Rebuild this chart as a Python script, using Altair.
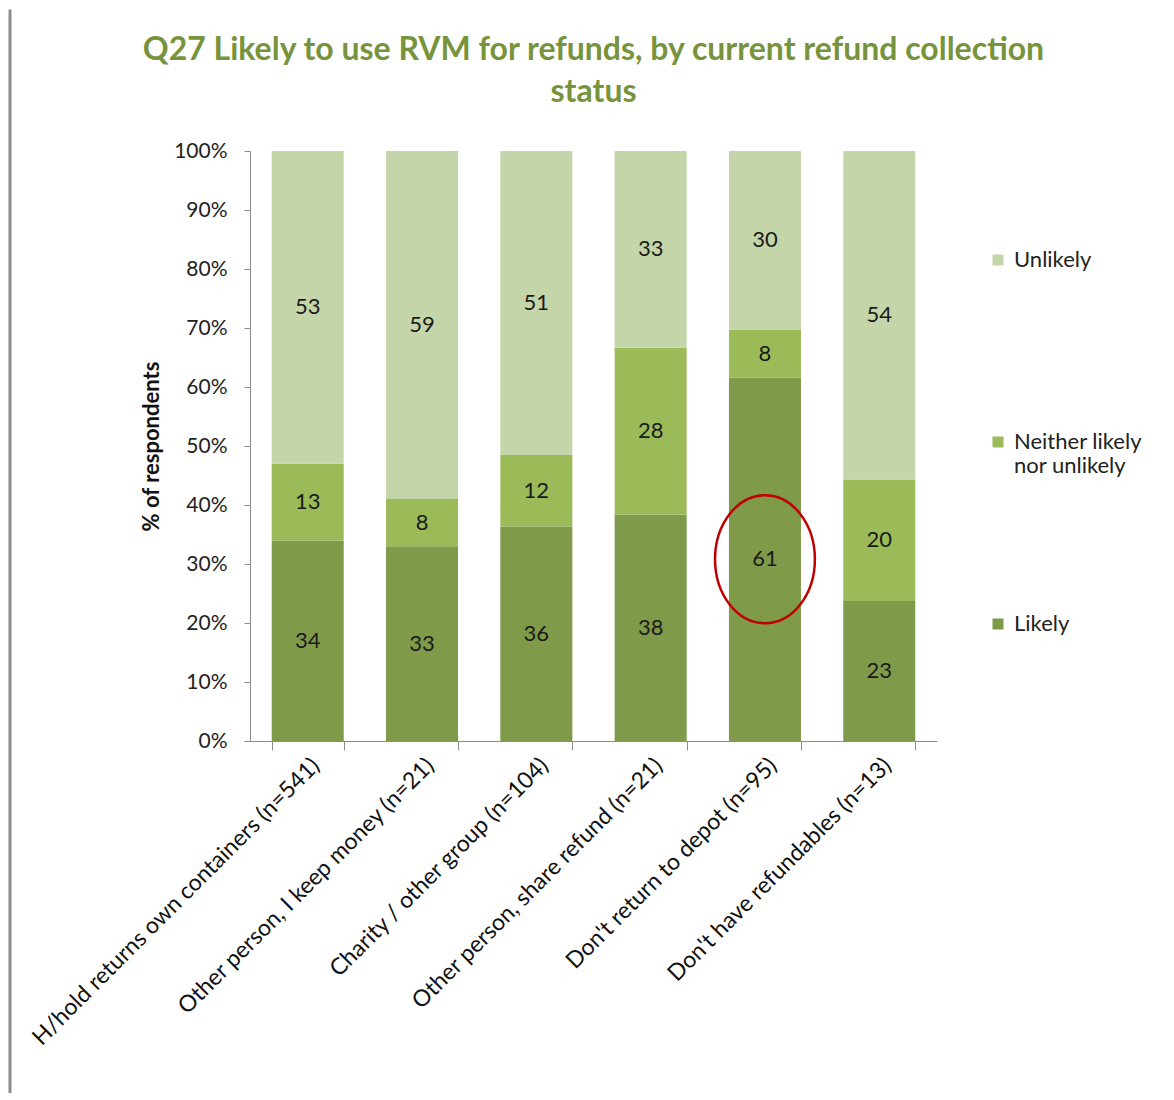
import altair as alt
import pandas as pd

categories = [
    "H/hold returns own containers (n=541)",
    "Other person, I keep money (n=21)",
    "Charity / other group (n=104)",
    "Other person, share refund (n=21)",
    "Don't return to depot (n=95)",
    "Don't have refundables (n=13)",
]
series = ["Likely", "Neither likely nor unlikely", "Unlikely"]
likely = [34, 33, 36, 38, 61, 23]
neither = [13, 8, 12, 28, 8, 20]
unlikely = [53, 59, 51, 33, 30, 54]
colors = ["#7F9A48", "#9BBB59", "#C4D6A9"]
highlight = ("Don't return to depot (n=95)", "Likely")

rows = []
for i, c in enumerate(categories):
    vals = [likely[i], neither[i], unlikely[i]]
    tot = sum(vals)
    cum = 0
    for s, v in zip(series, vals):
        y0 = cum / tot
        cum += v
        y1 = cum / tot
        rows.append({"cat": c, "series": s, "val": v, "y0": y0, "y1": y1,
                     "mid": (y0 + y1) / 2,
                     "hl": (c == highlight[0] and s == highlight[1])})
df = pd.DataFrame(rows)

FONT = "Lato"

x_enc = alt.X("cat:N", sort=categories, title=None,
              scale=alt.Scale(paddingInner=0.37, paddingOuter=0.19),
              axis=alt.Axis(labelAngle=-45, labelFontSize=23, labelFont=FONT,
                            labelColor="#111", tickBand="extent", tickSize=9,
                            domainColor="#8c8c8c", tickColor="#8c8c8c",
                            labelPadding=4, labelLimit=600))

base = alt.Chart(df)

bars = base.mark_bar().encode(
    x=x_enc,
    y=alt.Y("y0:Q", scale=alt.Scale(domain=[0, 1]),
            title="% of respondents",
            axis=alt.Axis(format=".0%", values=[i / 10 for i in range(11)],
                          grid=False, tickSize=6, labelPadding=17,
                          labelFontSize=21, labelFont=FONT, labelColor="#222",
                          domainColor="#8c8c8c", tickColor="#8c8c8c",
                          titleFontSize=22, titleFont=FONT, titleFontWeight="bold",
                          titleColor="#111", titlePadding=10)),
    y2="y1:Q",
    color=alt.Color("series:N",
                    scale=alt.Scale(domain=series, range=colors),
                    legend=alt.Legend(
                        title=None, orient="none", legendX=737, legendY=98,
                        symbolType="square", symbolSize=121, symbolStrokeWidth=0,
                        labelFontSize=22, labelFont=FONT, labelColor="#222",
                        rowPadding=136, labelOffset=5,
                        values=["Unlikely", "Neither likely nor unlikely", "Likely"],
                        labelExpr="datum.label == 'Neither likely nor unlikely' ? ['Neither likely', 'nor unlikely'] : [datum.label, ' ']",
                    )),
)

labels = base.mark_text(fontSize=22, font=FONT, color="#1a1a1a").encode(
    x=alt.X("cat:N", sort=categories),
    y="mid:Q",
    text="val:Q",
)

ellipse_path = "M -0.78 0 A 0.78 1 0 1 1 0.78 0 A 0.78 1 0 1 1 -0.78 0 Z"
ring = base.transform_filter("datum.hl").mark_point(
    shape=ellipse_path, size=16384, filled=False, strokeWidth=2.5,
    color="#C00000", opacity=1,
).encode(
    x=alt.X("cat:N", sort=categories),
    y="mid:Q",
)

border = alt.Chart(pd.DataFrame({"a": [0]})).mark_rule(
    color="#8c8c8c", strokeWidth=3
).encode(x=alt.value(-240), y=alt.value(-141.5), y2=alt.value(942))

chart = alt.layer(bars, labels, ring, border).properties(
    width=687, height=590,
    padding={"left": 0, "top": 0, "right": 10, "bottom": 5},
    title=alt.TitleParams(
        text=["Q27 Likely to use RVM for refunds, by current refund collection", "status"],
        fontSize=32, font=FONT, fontWeight="bold", color="#77933C",
        lineHeight=42, anchor="middle", frame="group", offset=-101,
    ),
).configure_view(stroke=None)

chart.save("out.html", embed_options={"renderer": "svg", "actions": False})
